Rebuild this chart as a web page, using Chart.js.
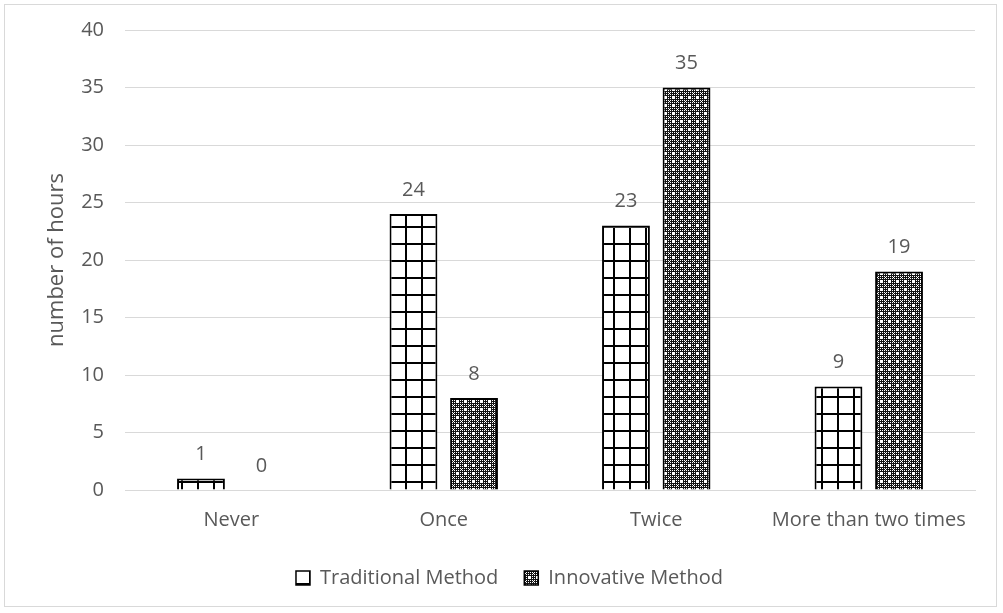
<!DOCTYPE html>
<html>
<head>
<meta charset="utf-8">
<script src="https://cdn.jsdelivr.net/npm/chart.js@4"></script>
<style>
  html, body { margin: 0; padding: 0; background: #fff; }
  #frame {
    position: absolute; left: 4px; top: 4px;
    width: 991px; height: 601px;
    border: 1px solid #d9d9d9;
  }
  canvas { display: block; }
</style>
</head>
<body>
<div id="frame"><canvas id="c" width="991" height="601"></canvas></div>
<script>
// Categories, series and axis ticks
const categories = ['Never', 'Once', 'Twice', 'More than two times'];
const traditional = [1, 24, 23, 9];
const innovative = [0, 8, 35, 19];
const seriesNames = ['Traditional Method', 'Innovative Method'];
const yTicks = [0, 5, 10, 15, 20, 25, 30, 35, 40];

const textColor = '#595959';
const fontFamily = '"Open Sans", "Noto Sans", sans-serif';
const fontSize = 20;

// Grid hatch used for the traditional series
function gridPattern() {
  const t = document.createElement('canvas');
  t.width = 16; t.height = 17;
  const g = t.getContext('2d');
  g.fillStyle = '#fff'; g.fillRect(0, 0, 16, 17);
  g.fillStyle = '#000';
  g.fillRect(0, 0, 2, 17);
  g.fillRect(0, 0, 16, 2);
  return g.createPattern(t, 'repeat');
}

// Dense dotted weave used for the innovative series
function weavePattern() {
  const n = 8;
  const t = document.createElement('canvas');
  t.width = n; t.height = n;
  const g = t.getContext('2d');
  const img = g.createImageData(n, n);
  for (let y = 0; y < n; y++) {
    for (let x = 0; x < n; x++) {
      let white = (x % 2 === 1 && y % 2 === 1);
      if ((x === 4 && y >= 3 && y <= 5) || (y === 4 && x >= 3 && x <= 5)) white = true;
      if (x === 0 && y === 0) white = true;
      const v = white ? 255 : 20;
      const i = (y * n + x) * 4;
      img.data[i] = v; img.data[i + 1] = v; img.data[i + 2] = v; img.data[i + 3] = 255;
    }
  }
  g.putImageData(img, 0, 0);
  return g.createPattern(t, 'repeat');
}

// Value labels above each bar
const valueLabels = {
  id: 'valueLabels',
  afterDatasetsDraw(chart) {
    const ctx = chart.ctx;
    ctx.save();
    ctx.fillStyle = textColor;
    ctx.font = fontSize + 'px ' + fontFamily;
    ctx.textAlign = 'center';
    ctx.textBaseline = 'bottom';
    chart.data.datasets.forEach((ds, di) => {
      const meta = chart.getDatasetMeta(di);
      meta.data.forEach((bar, i) => {
        ctx.fillText(String(ds.data[i]), bar.x, bar.y - 14);
      });
    });
    ctx.restore();
  }
};

const patterns = [gridPattern(), weavePattern()];

new Chart(document.getElementById('c'), {
  type: 'bar',
  data: {
    labels: categories,
    datasets: [traditional, innovative].map((vals, k) => ({
      label: seriesNames[k],
      data: vals,
      backgroundColor: patterns[k],
      borderColor: '#000',
      borderWidth: (c) => (c.raw === 0 ? 0 : 2),
      categoryPercentage: 0.57,
      barPercentage: 0.79
    }))
  },
  options: {
    responsive: false,
    animation: false,
    layout: { padding: { top: 25, right: 21, bottom: 8, left: 39 } },
    plugins: {
      tooltip: { enabled: false },
      legend: {
        position: 'bottom',
        labels: {
          color: textColor,
          font: { family: fontFamily, size: fontSize },
          boxWidth: 14,
          boxHeight: 14,
          padding: 26,
          generateLabels(chart) {
            return chart.data.datasets.map((ds, i) => ({
              text: ds.label,
              fillStyle: patterns[i],
              strokeStyle: '#000',
              lineWidth: 1.5,
              fontColor: textColor,
              datasetIndex: i
            }));
          }
        }
      }
    },
    scales: {
      x: {
        grid: { display: false },
        border: { display: true, color: '#d9d9d9', width: 1 },
        ticks: {
          color: textColor,
          font: { family: fontFamily, size: fontSize },
          padding: 10,
          maxRotation: 0
        }
      },
      y: {
        min: 0,
        max: 40,
        afterBuildTicks(axis) { axis.ticks = yTicks.map(v => ({ value: v })); },
        afterFit(axis) { axis.width = 81; },
        grid: { color: '#d9d9d9', lineWidth: 1, drawTicks: true, tickLength: 16, tickColor: 'rgba(0,0,0,0)' },
        border: { display: false },
        ticks: {
          color: textColor,
          font: { family: fontFamily, size: fontSize },
          padding: 5
        },
        title: {
          display: true,
          text: 'number of hours',
          color: textColor,
          font: { family: fontFamily, size: 22 },
          padding: { top: 0, bottom: 0 }
        }
      }
    }
  },
  plugins: [valueLabels]
});
</script>
</body>
</html>
